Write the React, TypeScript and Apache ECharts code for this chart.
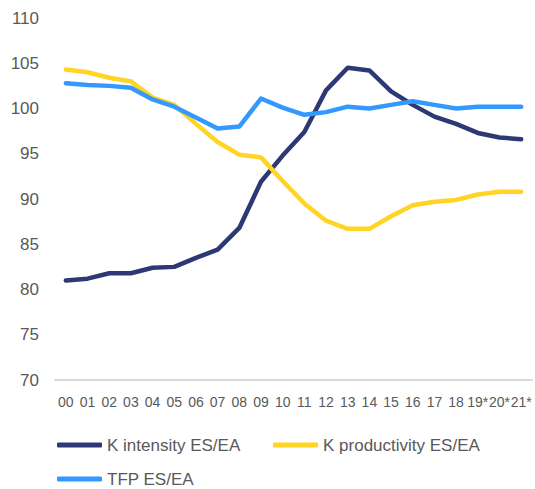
import React, { useEffect, useRef } from "react";
import * as echarts from "echarts";

const categories = ["00","01","02","03","04","05","06","07","08","09","10","11","12","13","14","15","16","17","18","19*","20*","21*"];
const kIntensity = [81.0,81.2,81.8,81.8,82.4,82.5,83.5,84.4,86.8,91.9,94.8,97.4,102.0,104.5,104.2,101.9,100.4,99.1,98.3,97.3,96.8,96.6];
const kProductivity = [104.3,104.0,103.4,103.0,101.2,100.4,98.3,96.3,94.9,94.6,92.0,89.5,87.6,86.7,86.7,88.1,89.3,89.7,89.9,90.5,90.8,90.8];
const tfp = [102.8,102.6,102.5,102.3,101.0,100.2,99.0,97.8,98.0,101.1,100.1,99.3,99.6,100.2,100.0,100.4,100.8,100.4,100.0,100.2,100.2,100.2];
const seriesNames = ["K intensity ES/EA", "K productivity ES/EA", "TFP ES/EA"];
const colors = ["#2E3874", "#FFD424", "#3399FF"];
const yMin = 70, yMax = 110, yStep = 5;

export default function App() {
  const ref = useRef<HTMLDivElement>(null);
  useEffect(() => {
    if (!ref.current) return;
    const chart = echarts.init(ref.current, null, { renderer: "svg" });
    const values = [kIntensity, kProductivity, tfp];
    const legendText = { color: "#595959", fontSize: 17, fontFamily: "Liberation Sans, Arial, sans-serif", lineHeight: 18 };
    const legendBase = {
      orient: "horizontal" as const,
      icon: "roundRect",
      itemWidth: 45,
      itemHeight: 5,
      itemGap: 0,
      padding: 0,
      textStyle: legendText,
      selectedMode: false,
    };
    chart.setOption({
      animation: false,
      color: colors,
      grid: { left: 55, right: 3, top: 18, bottom: 109, containLabel: false },
      legend: [
        { ...legendBase, left: 57, top: 436, data: [seriesNames[0]] },
        { ...legendBase, left: 273, top: 436, data: [seriesNames[1]] },
        { ...legendBase, left: 57, top: 470, data: [seriesNames[2]] },
      ],
      xAxis: {
        type: "category",
        data: categories,
        boundaryGap: true,
        axisTick: { show: false },
        axisLine: { lineStyle: { color: "#D9D9D9", width: 2 } },
        axisLabel: {
          interval: 0,
          margin: 15,
          color: "#595959",
          fontSize: 14,
          fontFamily: "Liberation Sans, Arial, sans-serif",
        },
      },
      yAxis: {
        type: "value",
        min: yMin,
        max: yMax,
        interval: yStep,
        splitLine: { show: false },
        axisLine: { show: false },
        axisTick: { show: false },
        axisLabel: {
          margin: 16,
          color: "#595959",
          fontSize: 17,
          fontFamily: "Liberation Sans, Arial, sans-serif",
        },
      },
      series: seriesNames.map((name, i) => ({
        name,
        type: "line",
        data: values[i],
        showSymbol: false,
        symbol: "none",
        lineStyle: { width: 4.5, color: colors[i], cap: "round", join: "round" },
        itemStyle: { color: colors[i] },
      })),
    });
    return () => chart.dispose();
  }, []);
  return <div ref={ref} style={{ width: 535, height: 489, position: "absolute", left: 0, top: 0 }} />;
}
